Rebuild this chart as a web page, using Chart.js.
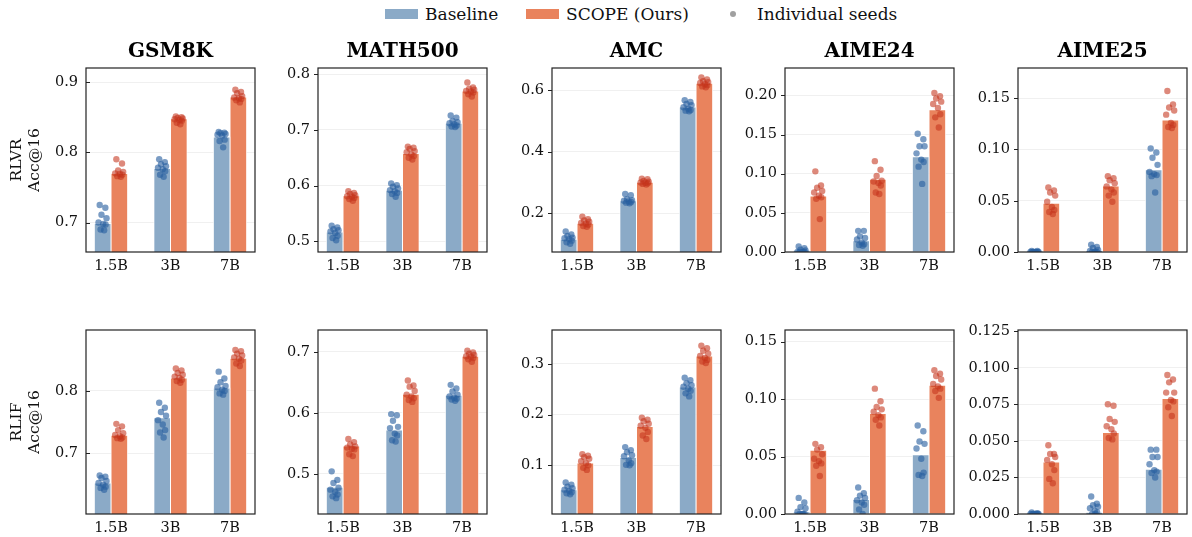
<!DOCTYPE html>
<html>
<head>
<meta charset="utf-8">
<script src="https://cdn.jsdelivr.net/npm/chart.js@4"></script>
<style>
  body { margin: 0; background: #fff; width: 1192px; height: 537px; overflow: hidden; position: relative; font-family: 'DejaVu Serif', serif; }
  .panel { position: absolute; }
  .swatch { position: absolute; top: 9px; width: 33px; height: 10px; }
  .dot { position: absolute; top: 11px; width: 6px; height: 6px; border-radius: 50%; background: rgba(128,128,128,0.75); }
  .label { position: absolute; top: 6px; font-size: 17px; line-height: 17px; color: #111; white-space: nowrap; }
</style>
</head>
<body>
<div id="legend">
  <span class="swatch" style="left:385px;background:#8baac7"></span>
  <span class="label" style="left:425px">Baseline</span>
  <span class="swatch" style="left:526px;background:#e9835d"></span>
  <span class="label" style="left:566px">SCOPE (Ours)</span>
  <span class="dot" style="left:730px"></span>
  <span class="label" style="left:757px">Individual seeds</span>
</div>
<script>
const categories = ['1.5B', '3B', '7B']
const benchmarks = ['GSM8K', 'MATH500', 'AMC', 'AIME24', 'AIME25']
const methods = ['RLVR', 'RLIF']

// bar heights (mean over seeds), one row per benchmark
const rlvrBaseline = [[0.699, 0.777, 0.822], [0.517, 0.592, 0.712], [0.115, 0.241, 0.546], [0.002, 0.0145, 0.122], [0.0005, 0.001, 0.0804]]
const rlvrScope = [[0.770, 0.848, 0.879], [0.582, 0.658, 0.770], [0.167, 0.301, 0.624], [0.0717, 0.093, 0.182], [0.0477, 0.0646, 0.129]]
const rlifBaseline = [[0.652, 0.757, 0.805], [0.478, 0.572, 0.629], [0.052, 0.116, 0.255], [0.002, 0.0128, 0.0516], [0.0005, 0.001, 0.0307]]
const rlifScope = [[0.729, 0.821, 0.853], [0.546, 0.631, 0.693], [0.105, 0.177, 0.316], [0.0555, 0.0876, 0.112], [0.0356, 0.0559, 0.079]]

// individual seeds
const rlvrBaselineSeeds = [
  [[0.725, 0.721, 0.711, 0.706, 0.700, 0.698, 0.697, 0.690, 0.689], [0.790, 0.786, 0.783, 0.780, 0.778, 0.776, 0.773, 0.768, 0.765], [0.829, 0.828, 0.827, 0.826, 0.825, 0.824, 0.818, 0.816, 0.807]],
  [[0.528, 0.525, 0.522, 0.520, 0.518, 0.515, 0.510, 0.506, 0.502], [0.604, 0.601, 0.598, 0.595, 0.592, 0.590, 0.587, 0.585, 0.580], [0.726, 0.722, 0.716, 0.714, 0.712, 0.710, 0.708, 0.706, 0.705]],
  [[0.140, 0.130, 0.125, 0.120, 0.118, 0.115, 0.110, 0.105, 0.100], [0.262, 0.258, 0.245, 0.242, 0.240, 0.238, 0.236, 0.234, 0.232], [0.568, 0.562, 0.556, 0.552, 0.545, 0.540, 0.536, 0.534, 0.532]],
  [[0.007, 0.005, 0.003, 0.002, 0.000, 0.000, 0.000, 0.000, 0.000], [0.027, 0.027, 0.020, 0.018, 0.016, 0.012, 0.010, 0.009, 0.008], [0.151, 0.144, 0.135, 0.135, 0.126, 0.118, 0.115, 0.109, 0.087]],
  [[0.001, 0.001, 0.000, 0.000, 0.000, 0.000, 0.000, 0.000, 0.000], [0.007, 0.005, 0.004, 0.002, 0.001, 0.000, 0.000, 0.000, 0.000], [0.101, 0.097, 0.092, 0.085, 0.078, 0.076, 0.075, 0.074, 0.058]]
]
const rlvrScopeSeeds = [
  [[0.790, 0.784, 0.774, 0.772, 0.770, 0.769, 0.768, 0.766, 0.765], [0.851, 0.850, 0.849, 0.848, 0.847, 0.846, 0.845, 0.842, 0.840], [0.889, 0.886, 0.884, 0.880, 0.878, 0.877, 0.876, 0.874, 0.871]],
  [[0.590, 0.587, 0.585, 0.583, 0.581, 0.580, 0.578, 0.576, 0.573], [0.670, 0.668, 0.666, 0.662, 0.660, 0.656, 0.653, 0.650, 0.647], [0.785, 0.776, 0.774, 0.772, 0.770, 0.769, 0.767, 0.764, 0.760]],
  [[0.188, 0.180, 0.176, 0.172, 0.168, 0.165, 0.162, 0.158, 0.155], [0.312, 0.310, 0.305, 0.302, 0.300, 0.299, 0.297, 0.295, 0.293], [0.642, 0.636, 0.630, 0.627, 0.624, 0.620, 0.617, 0.613, 0.610]],
  [[0.103, 0.085, 0.082, 0.078, 0.076, 0.072, 0.070, 0.068, 0.042], [0.116, 0.105, 0.097, 0.091, 0.090, 0.088, 0.085, 0.076, 0.074], [0.203, 0.199, 0.196, 0.192, 0.189, 0.184, 0.176, 0.172, 0.159]],
  [[0.063, 0.060, 0.058, 0.055, 0.049, 0.044, 0.041, 0.039, 0.037], [0.074, 0.072, 0.070, 0.067, 0.064, 0.061, 0.058, 0.055, 0.049], [0.157, 0.144, 0.141, 0.138, 0.134, 0.126, 0.124, 0.122, 0.121]]
]
const rlifBaselineSeeds = [
  [[0.664, 0.662, 0.660, 0.655, 0.652, 0.649, 0.646, 0.644, 0.641], [0.781, 0.773, 0.766, 0.760, 0.753, 0.746, 0.737, 0.733, 0.725], [0.831, 0.820, 0.814, 0.808, 0.806, 0.802, 0.800, 0.796, 0.794]],
  [[0.504, 0.490, 0.485, 0.477, 0.474, 0.470, 0.466, 0.463, 0.460], [0.598, 0.596, 0.587, 0.577, 0.575, 0.566, 0.563, 0.555, 0.553], [0.646, 0.640, 0.635, 0.630, 0.627, 0.625, 0.623, 0.622, 0.620]],
  [[0.066, 0.062, 0.058, 0.055, 0.052, 0.050, 0.047, 0.045, 0.043], [0.136, 0.130, 0.126, 0.120, 0.118, 0.110, 0.104, 0.101, 0.100], [0.273, 0.268, 0.262, 0.258, 0.255, 0.251, 0.247, 0.242, 0.236]],
  [[0.014, 0.010, 0.006, 0.005, 0.002, 0.000, 0.000, 0.000, 0.000], [0.023, 0.018, 0.016, 0.014, 0.012, 0.010, 0.008, 0.004, 0.000], [0.077, 0.072, 0.063, 0.061, 0.057, 0.048, 0.036, 0.034, 0.033]],
  [[0.001, 0.0005, 0.000, 0.000, 0.000, 0.000, 0.000, 0.000, 0.000], [0.012, 0.007, 0.006, 0.005, 0.004, 0.002, 0.001, 0.000, 0.000], [0.044, 0.044, 0.039, 0.039, 0.034, 0.030, 0.029, 0.028, 0.025]]
]
const rlifScopeSeeds = [
  [[0.747, 0.743, 0.737, 0.732, 0.729, 0.727, 0.725, 0.724, 0.723], [0.836, 0.833, 0.829, 0.826, 0.823, 0.821, 0.818, 0.816, 0.813], [0.866, 0.864, 0.860, 0.857, 0.854, 0.852, 0.849, 0.844, 0.840]],
  [[0.557, 0.552, 0.548, 0.545, 0.543, 0.541, 0.540, 0.532, 0.529], [0.653, 0.645, 0.643, 0.636, 0.630, 0.627, 0.624, 0.621, 0.618], [0.702, 0.699, 0.697, 0.695, 0.693, 0.692, 0.690, 0.688, 0.684]],
  [[0.122, 0.119, 0.116, 0.113, 0.108, 0.104, 0.100, 0.095, 0.091], [0.194, 0.190, 0.187, 0.182, 0.178, 0.174, 0.166, 0.159, 0.152], [0.336, 0.331, 0.326, 0.320, 0.316, 0.312, 0.308, 0.305, 0.302]],
  [[0.061, 0.058, 0.056, 0.052, 0.048, 0.046, 0.044, 0.042, 0.033], [0.109, 0.098, 0.093, 0.091, 0.089, 0.086, 0.084, 0.082, 0.077], [0.125, 0.122, 0.120, 0.117, 0.113, 0.111, 0.109, 0.107, 0.101]],
  [[0.047, 0.041, 0.041, 0.039, 0.037, 0.034, 0.030, 0.024, 0.021], [0.075, 0.074, 0.065, 0.063, 0.060, 0.058, 0.055, 0.052, 0.051], [0.095, 0.092, 0.090, 0.083, 0.083, 0.078, 0.077, 0.073, 0.067]]
]

// y axis limits and tick labels
const rlvrRange = [[0.658, 0.920], [0.481, 0.811], [0.073, 0.673], [0, 0.235], [0, 0.1795]]
const rlifRange = [[0.602, 0.898], [0.434, 0.736], [0.004, 0.367], [0, 0.160], [0, 0.1258]]
const rlvrTicks = [[0.7, 0.8, 0.9], [0.5, 0.6, 0.7, 0.8], [0.2, 0.4, 0.6], [0, 0.05, 0.10, 0.15, 0.20], [0, 0.05, 0.10, 0.15]]
const rlifTicks = [[0.7, 0.8], [0.5, 0.6, 0.7], [0.1, 0.2, 0.3], [0, 0.05, 0.10, 0.15], [0, 0.025, 0.050, 0.075, 0.100, 0.125]]
const rlvrDecimals = [1, 1, 1, 2, 2]
const rlifDecimals = [1, 1, 1, 2, 3]

const FONT = "'DejaVu Serif', serif"
const baseColor = '#8baac7'
const scopeColor = '#e9835d'
const baseSeedColor = 'rgba(40,96,160,0.62)'
const scopeSeedColor = 'rgba(196,52,28,0.58)'
const jitter = [-0.05, 0.045, -0.02, 0.065, -0.07, 0.01, 0.05, -0.035, 0.025]
const barOffset = 0.14

const boxLeft = [86, 318, 552, 785, 1018]
const boxTop = [68, 330]
const boxW = 169
const boxH = 184
const headH = 28
const footH = 24
const padR = 4

const framePlugin = {
    id: 'frame',
    afterDraw(chart) {
        const {ctx, chartArea: a, scales: {y}} = chart
        const inward = chart.options.tickInward
        ctx.save()
        ctx.strokeStyle = '#222'
        ctx.lineWidth = 1
        for (const t of y.ticks) {
            const py = Math.round(y.getPixelForValue(t.value)) + 0.5
            ctx.beginPath()
            ctx.moveTo(a.left, py)
            ctx.lineTo(inward ? a.left + 4 : a.left - 4, py)
            ctx.stroke()
        }
        ctx.lineWidth = 1.2
        ctx.strokeRect(a.left, a.top, a.right - a.left, a.bottom - a.top)
        ctx.restore()
    }
}

function barPoints(values, offset) {
    return categories.map((c, i) => ({x: i + offset, y: values[i]}))
}

function seedPoints(seeds, offset) {
    const pts = []
    seeds.forEach((list, i) => {
        list.forEach((v, k) => pts.push({x: i + offset + jitter[k % jitter.length], y: v}))
    })
    return pts
}

function makePanel(row, col) {
    const isRlvr = row === 0
    const base = (isRlvr ? rlvrBaseline : rlifBaseline)[col]
    const scope = (isRlvr ? rlvrScope : rlifScope)[col]
    const baseSeeds = (isRlvr ? rlvrBaselineSeeds : rlifBaselineSeeds)[col]
    const scopeSeeds = (isRlvr ? rlvrScopeSeeds : rlifScopeSeeds)[col]
    const range = (isRlvr ? rlvrRange : rlifRange)[col]
    const ticks = (isRlvr ? rlvrTicks : rlifTicks)[col]
    const decimals = (isRlvr ? rlvrDecimals : rlifDecimals)[col]

    const axisW = col === 0 ? 86 : 66
    const width = axisW + boxW + padR
    const height = headH + boxH + footH

    const wrap = document.createElement('div')
    wrap.className = 'panel'
    wrap.style.left = (boxLeft[col] - axisW) + 'px'
    wrap.style.top = (boxTop[row] - headH) + 'px'
    const canvas = document.createElement('canvas')
    canvas.width = width
    canvas.height = height
    canvas.style.width = width + 'px'
    canvas.style.height = height + 'px'
    wrap.appendChild(canvas)
    document.body.appendChild(wrap)

    new Chart(canvas, {
        type: 'bar',
        data: {
            datasets: [
                {
                    type: 'scatter',
                    data: seedPoints(baseSeeds, -barOffset),
                    backgroundColor: baseSeedColor,
                    pointBackgroundColor: baseSeedColor,
                    pointRadius: 3.2,
                    pointBorderWidth: 0,
                    order: 0
                },
                {
                    type: 'scatter',
                    data: seedPoints(scopeSeeds, barOffset),
                    backgroundColor: scopeSeedColor,
                    pointBackgroundColor: scopeSeedColor,
                    pointRadius: 3.2,
                    pointBorderWidth: 0,
                    order: 0
                },
                {
                    label: 'Baseline',
                    data: barPoints(base, -barOffset),
                    backgroundColor: baseColor,
                    borderColor: 'rgba(255,255,255,0.75)',
                    borderWidth: 1,
                    barThickness: 17,
                    grouped: false,
                    order: 1
                },
                {
                    label: 'SCOPE (Ours)',
                    data: barPoints(scope, barOffset),
                    backgroundColor: scopeColor,
                    borderColor: 'rgba(255,255,255,0.75)',
                    borderWidth: 1,
                    barThickness: 17,
                    grouped: false,
                    order: 1
                }
            ]
        },
        options: {
            responsive: false,
            animation: false,
            events: [],
            tickInward: col === 0,
            layout: {
                padding: {top: isRlvr ? 0 : headH, right: padR, left: 0, bottom: 0}
            },
            plugins: {
                legend: {display: false},
                tooltip: {enabled: false},
                title: {
                    display: isRlvr,
                    text: benchmarks[col],
                    fullSize: false,
                    color: '#000',
                    font: {family: FONT, size: 20, weight: 'bold', lineHeight: 1.2},
                    padding: {top: 0, bottom: 4}
                }
            },
            scales: {
                x: {
                    type: 'linear',
                    min: -0.42,
                    max: 2.42,
                    offset: false,
                    grid: {display: false, drawTicks: false},
                    border: {display: false},
                    afterBuildTicks: scale => {
                        scale.ticks = categories.map((c, i) => ({value: i}))
                    },
                    afterFit: scale => {
                        scale.height = footH
                    },
                    ticks: {
                        autoSkip: false,
                        maxRotation: 0,
                        padding: 6,
                        color: '#111',
                        font: {family: FONT, size: 14.5},
                        callback: value => categories[value]
                    }
                },
                y: {
                    type: 'linear',
                    min: range[0],
                    max: range[1],
                    grid: {color: '#ececec', lineWidth: 0.8, drawTicks: false},
                    border: {display: false},
                    afterBuildTicks: scale => {
                        scale.ticks = ticks.map(v => ({value: v}))
                    },
                    afterFit: scale => {
                        scale.width = axisW
                    },
                    ticks: {
                        padding: 8,
                        color: '#111',
                        font: {family: FONT, size: 14.5},
                        callback: value => value.toFixed(decimals)
                    },
                    title: {
                        display: col === 0,
                        text: [methods[row], 'Acc@16'],
                        color: '#111',
                        font: {family: FONT, size: 15.5, lineHeight: 1.13},
                        padding: {top: 8.5, bottom: 0}
                    }
                }
            }
        },
        plugins: [framePlugin]
    })
}

for (let row = 0; row < 2; row++) {
    for (let col = 0; col < benchmarks.length; col++) {
        makePanel(row, col)
    }
}
</script>
</body>
</html>
